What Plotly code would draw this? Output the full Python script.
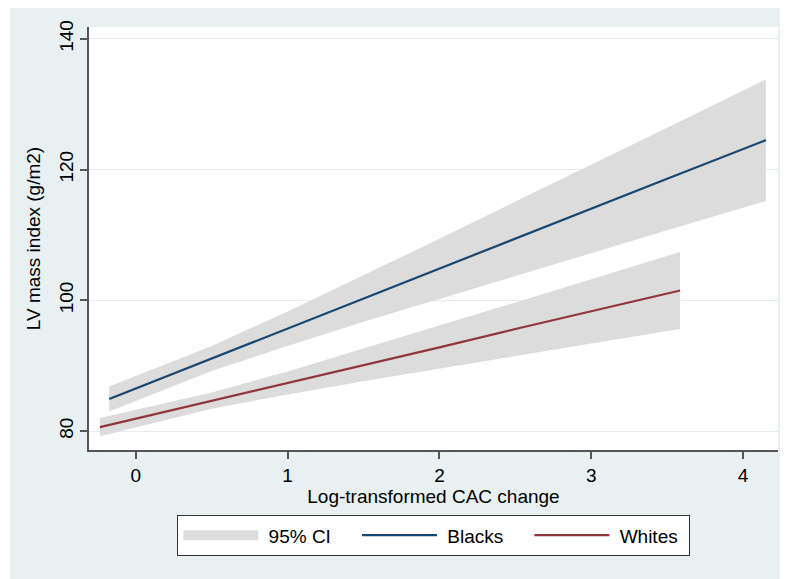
import plotly.graph_objects as go

# Blacks: fitted line and 95% CI
x_b = [-0.175, 0.5, 1.0, 1.5, 2.0, 2.5, 3.0, 3.5, 4.15]
fit_b = [84.9, 91.1, 95.7, 100.2, 104.8, 109.4, 114.0, 118.6, 124.5]
lo_b = [83.0, 89.2, 93.0, 96.7, 100.2, 103.7, 107.2, 110.7, 115.2]
hi_b = [86.8, 93.0, 98.3, 103.8, 109.4, 115.1, 120.7, 126.4, 133.8]

# Whites: fitted line and 95% CI
x_w = [-0.236, 0.5, 1.0, 1.5, 2.0, 2.5, 3.0, 3.585]
fit_w = [80.6, 84.6, 87.4, 90.1, 92.8, 95.6, 98.3, 101.5]
lo_w = [79.2, 83.4, 85.6, 87.6, 89.6, 91.5, 93.4, 95.6]
hi_w = [82.0, 85.9, 89.1, 92.6, 96.1, 99.6, 103.2, 107.4]

x_ticks = [0, 1, 2, 3, 4]
y_ticks = [80, 100, 120, 140]

BG = "#E8F0F2"
GRID = "#E3ECEF"
FILL = "#DCDCDC"
BLUE = "#1A476F"
RED = "#90353B"
AX = "#555555"
FONT = "Liberation Sans, Arial, Helvetica, sans-serif"
FS = 19
NB = "\u00a0"

fig = go.Figure()

fig.add_trace(go.Scatter(
    x=x_b + x_b[::-1], y=hi_b + lo_b[::-1], fill="toself", fillcolor=FILL,
    line=dict(width=0, color=FILL), mode="lines", name="95% CI",
    showlegend=False, hoverinfo="skip"))
fig.add_trace(go.Scatter(
    x=x_w + x_w[::-1], y=hi_w + lo_w[::-1], fill="toself", fillcolor=FILL,
    line=dict(width=0, color=FILL), mode="lines", name="95% CI",
    showlegend=False, hoverinfo="skip"))
# legend entry for the CI band (wide grey swatch)
fig.add_trace(go.Scatter(x=[None], y=[None], mode="lines",
                         name=NB + "95% CI" + NB * 4,
                         line=dict(color=FILL, width=18), legendrank=1))
fig.add_trace(go.Scatter(x=x_b, y=fit_b, mode="lines",
                         name=NB + "Blacks" + NB * 4,
                         line=dict(color=BLUE, width=2.2), legendrank=2))
fig.add_trace(go.Scatter(x=x_w, y=fit_w, mode="lines",
                         name=NB + "Whites" + NB,
                         line=dict(color=RED, width=2.2), legendrank=3))

# page has an 8px body margin: figure occupies 780x571 starting at (8, 8)
W, H = 780, 571
L, R, T, B = 81, 10, 19, 129
pw, ph = W - L - R, H - T - B

def px_x(p):
    return (p - L) / pw

def px_y(p):
    return (H - B - p) / ph

shapes = [
    dict(type="rect", xref="paper", yref="paper", x0=px_x(0), x1=px_x(2),
         y0=px_y(H), y1=px_y(0), fillcolor="white", line=dict(width=0), layer="below"),
]

fig.update_layout(
    width=W, height=H,
    margin=dict(l=L, r=R, t=T, b=B, autoexpand=False),
    paper_bgcolor=BG, plot_bgcolor="white",
    font=dict(family=FONT, size=FS, color="black"),
    shapes=shapes,
    showlegend=True,
    legend=dict(
        orientation="h", x=0.5, xanchor="center", y=px_y(507), yanchor="top",
        bgcolor="white", bordercolor="#333333", borderwidth=1.3,
        font=dict(size=FS), itemwidth=75, tracegroupgap=0,
        traceorder="normal"),
    xaxis=dict(
        range=[-0.308, 4.23], tickvals=x_ticks, ticktext=[str(v) for v in x_ticks],
        showgrid=False, zeroline=False, showline=True, linecolor=AX, linewidth=1.5,
        ticks="outside", ticklen=7, tickcolor=AX, tickwidth=1.5, automargin=False,
        title=dict(text="Log-transformed CAC change", standoff=0, font=dict(size=FS)),
        tickfont=dict(size=FS)),
    yaxis=dict(
        range=[77.1, 141.8], tickvals=y_ticks, ticktext=[str(v) for v in y_ticks],
        showgrid=True, gridcolor=GRID, gridwidth=1.2, zeroline=False,
        showline=True, linecolor=AX, linewidth=1.5, automargin=False,
        ticks="outside", ticklen=7, tickcolor=AX, tickwidth=1.5, tickangle=-90,
        title=dict(text="LV mass index (g/m2)", standoff=10, font=dict(size=FS)),
        tickfont=dict(size=FS)),
)

fig.write_html("out.html")
